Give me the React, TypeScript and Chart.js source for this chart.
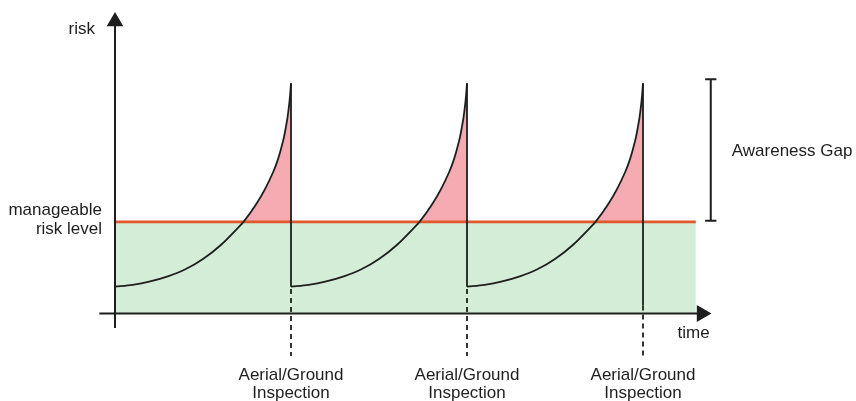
import React, { useEffect, useRef } from "react";
import { Chart, registerables } from "chart.js";

Chart.register(...registerables);

// ---- data ----
const cycleStarts = [0, 1, 2];
const inspectionTimes = [1, 2, 3];
const curveOffsets = [0, 0.1, 0.2, 0.3, 0.4, 0.5, 0.6, 0.7, 0.73, 0.8, 0.85, 0.9, 0.92, 0.94, 0.96, 0.97, 0.98, 0.99, 0.995, 1.0];
const curveRisk = [1.17, 1.25, 1.4, 1.62, 1.93, 2.38, 2.98, 3.75, 4.0, 4.75, 5.4, 6.2, 6.6, 7.1, 7.7, 8.1, 8.55, 9.15, 9.55, 10.05];
const manageableLevel = 4;
const peakRisk = 10.05;
const resetRisk = 1.17;
const lastDropEnd = 0.35;
const zoneEnd = 3.3;
const dashBottom = -1.86;
const gapTop = 10.23;
const gapBottom = 4.05;
const gapX = 3.385;
const gapCapHalf = 0.032;
const xAxisStart = -0.089;
const xArrowAt = 3.3335;
const yAxisBottom = -0.63;
const yArrowAt = 12.75;

const yAxisLabel = "risk";
const xAxisLabel = "time";
const levelLabel = ["manageable", "risk level"];
const inspectionLabel = ["Aerial/Ground", "Inspection"];
const gapLabel = "Awareness Gap";

// ---- styles ----
const FONT = '17px "Liberation Sans", Arial, Helvetica, sans-serif';
const INK = "#1e1e1e";
const RED = "#E0582C";
const GREEN = "#D3EDD6";
const PINK = "#F5ABB1";

type P = { x: number; y: number | null };

function buildCurve(start: number): P[] {
  return curveOffsets.map((t, i) => ({ x: start + t, y: curveRisk[i] }));
}

function buildDrops(): P[] {
  const pts: P[] = [];
  inspectionTimes.forEach((t, i) => {
    const last = i === inspectionTimes.length - 1;
    pts.push({ x: t, y: peakRisk }, { x: t, y: last ? lastDropEnd : resetRisk }, { x: t + 0.5, y: null });
  });
  return pts;
}

function buildDashes(): P[] {
  const pts: P[] = [];
  inspectionTimes.forEach((t, i) => {
    const last = i === inspectionTimes.length - 1;
    pts.push({ x: t, y: last ? lastDropEnd : resetRisk - 0.1 }, { x: t, y: dashBottom }, { x: t + 0.5, y: null });
  });
  return pts;
}

const labelsPlugin = {
  id: "diagramLabels",
  afterDraw(chart: any) {
    const ctx = chart.ctx as CanvasRenderingContext2D;
    const xs = chart.scales.x;
    const ys = chart.scales.y;
    const x0 = xs.getPixelForValue(0);
    const y0 = ys.getPixelForValue(0);
    const yl = ys.getPixelForValue(manageableLevel);
    ctx.save();
    ctx.fillStyle = INK;
    ctx.font = FONT;
    ctx.textBaseline = "alphabetic";

    ctx.textAlign = "right";
    ctx.fillText(yAxisLabel, x0 - 20, ys.getPixelForValue(yArrowAt) + 12);
    ctx.fillText(levelLabel[0], x0 - 13, yl - 7);
    ctx.fillText(levelLabel[1], x0 - 13, yl + 12.5);
    ctx.fillText(xAxisLabel, xs.getPixelForValue(xArrowAt) + 8, y0 + 24.5);

    ctx.textAlign = "center";
    inspectionTimes.forEach((t) => {
      const px = xs.getPixelForValue(t);
      ctx.fillText(inspectionLabel[0], px, y0 + 66.5);
      ctx.fillText(inspectionLabel[1], px, y0 + 84.5);
    });

    ctx.textAlign = "left";
    const gy = ys.getPixelForValue((gapTop + gapBottom) / 2);
    ctx.fillText(gapLabel, xs.getPixelForValue(gapX) + 21, gy + 6);
    ctx.restore();
  },
};

export default function App() {
  const ref = useRef<HTMLCanvasElement>(null);

  useEffect(() => {
    if (!ref.current) return;
    const curveSets = cycleStarts.map((s) => ({
      data: buildCurve(s),
      borderColor: INK,
      borderWidth: 1.8,
      cubicInterpolationMode: "monotone" as const,
      fill: { target: { value: manageableLevel }, above: PINK, below: "rgba(0,0,0,0)" },
      pointRadius: 0,
      order: 10,
    }));

    const datasets: any[] = [
      {
        data: [
          { x: 0, y: manageableLevel },
          { x: zoneEnd, y: manageableLevel },
        ],
        borderColor: RED,
        borderWidth: 2.6,
        backgroundColor: GREEN,
        fill: "origin",
        pointRadius: 0,
        order: 30,
      },
      ...curveSets,
      {
        data: buildDrops(),
        borderColor: INK,
        borderWidth: 1.8,
        fill: false,
        pointRadius: 0,
        order: 9,
      },
      {
        data: buildDashes(),
        borderColor: INK,
        borderWidth: 1.8,
        borderDash: [5, 4],
        fill: false,
        pointRadius: 0,
        order: 9,
      },
      {
        data: [
          { x: xAxisStart, y: 0 },
          { x: xArrowAt, y: 0 },
        ],
        borderColor: INK,
        borderWidth: 2,
        fill: false,
        pointRadius: 0,
        order: 2,
      },
      {
        data: [
          { x: 0, y: yAxisBottom },
          { x: 0, y: yArrowAt },
        ],
        borderColor: INK,
        borderWidth: 2,
        fill: false,
        pointRadius: 0,
        order: 2,
      },
      {
        data: [{ x: xArrowAt, y: 0 }],
        showLine: false,
        pointStyle: "triangle",
        rotation: 90,
        pointRadius: 9.8,
        pointBackgroundColor: INK,
        pointBorderColor: INK,
        pointBorderWidth: 0,
        order: 1,
      },
      {
        data: [{ x: 0, y: yArrowAt }],
        showLine: false,
        pointStyle: "triangle",
        rotation: 0,
        pointRadius: 9.6,
        pointBackgroundColor: INK,
        pointBorderColor: INK,
        pointBorderWidth: 0,
        order: 1,
      },
      {
        data: [
          { x: gapX - gapCapHalf, y: gapTop },
          { x: gapX + gapCapHalf, y: gapTop },
          { x: gapX + 0.2, y: null },
          { x: gapX, y: gapTop },
          { x: gapX, y: gapBottom },
          { x: gapX + 0.2, y: null },
          { x: gapX - gapCapHalf, y: gapBottom },
          { x: gapX + gapCapHalf, y: gapBottom },
        ],
        borderColor: INK,
        borderWidth: 2,
        fill: false,
        pointRadius: 0,
        order: 2,
      },
    ];

    const chart = new Chart(ref.current, {
      type: "line",
      data: { datasets },
      options: {
        responsive: false,
        maintainAspectRatio: false,
        animation: false,
        layout: { padding: 0, autoPadding: false },
        plugins: {
          legend: { display: false },
          tooltip: { enabled: false },
          filler: { propagate: false, drawTime: "beforeDatasetsDraw" },
        },
        scales: {
          x: { type: "linear", display: false, min: -115 / 176, max: -115 / 176 + 856 / 176 },
          y: { type: "linear", display: false, min: -(401 - 313.5) / 22.9, max: 313.5 / 22.9 },
        },
      } as any,
      plugins: [labelsPlugin],
    });
    return () => chart.destroy();
  }, []);

  return (
    <div style={{ position: "fixed", left: 0, top: 0, width: 856, height: 401, background: "#fff" }}>
      <canvas ref={ref} width={856} height={401} style={{ display: "block", width: 856, height: 401 }} />
    </div>
  );
}
